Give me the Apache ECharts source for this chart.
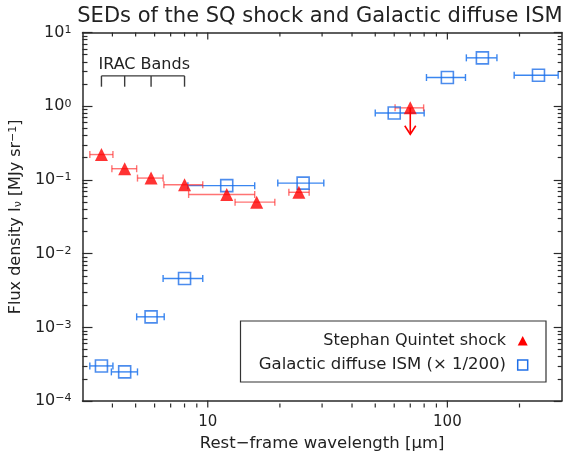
<!DOCTYPE html>
<html><head><meta charset="utf-8">
<script src="https://cdn.jsdelivr.net/npm/echarts@6/dist/echarts.min.js"></script>
<style>html,body{margin:0;padding:0;background:#fff}#c{width:567px;height:457px}</style>
</head><body><div id="c"></div>
<script>
// ---- Stephan Quintet shock (red triangles) ----
const sqWave    = [3.6, 4.5, 5.8, 8.0, 12, 16, 24, 70];
const sqFlux    = [0.221, 0.142, 0.106, 0.086, 0.0635, 0.050, 0.068, 0.95];
const sqWaveLo  = [3.22, 3.98, 5.09, 6.56, 8.32, 13.0, 21.8, 60.5];
const sqWaveHi  = [4.02, 5.05, 6.51, 9.53, 15.7, 19.05, 26.5, 79.6];
const sqLimitWave = [70];
const sqLimitTo   = [0.417];
// ---- Galactic diffuse ISM x 1/200 (blue squares) ----
const ismWave   = [3.6, 4.5, 5.8, 8.0, 12, 25, 60, 100, 140, 240];
const ismFlux   = [3.0e-4, 2.49e-4, 1.39e-3, 4.61e-3, 0.0837, 0.0906, 0.81, 2.45, 4.53, 2.63];
const ismWaveLo = [3.22, 3.96, 5.05, 6.51, 8.26, 19.6, 50.0, 81.8, 120, 190];
const ismWaveHi = [4.02, 5.09, 6.58, 9.53, 15.7, 30.5, 80.0, 119, 161, 290];
// ---- IRAC bands bracket ----
const iracBands = [3.6, 4.5, 5.8, 8.0];
const iracBracketTop = 2.58, iracBracketBottom = 1.84;
// ---- axes ----
const X_MIN = 3, X_MAX = 300, Y_MIN = 1e-4, Y_MAX = 10;
const xMajor = [10, 100];
const xMinor = [4, 5, 6, 7, 8, 9, 20, 30, 40, 50, 60, 70, 80, 90, 200];
const yLabels = [1e-4, 1e-3, 1e-2, 1e-1, 1, 10];

const GRID = { left: 79.3, right: 5.3, top: 32.5, bottom: 49.5 };
const W = 567, H = 457;
const gL = GRID.left, gR = W - GRID.right, gT = GRID.top, gB = H - GRID.bottom;
const FONT = 'DejaVu Sans';
const AX = '#2a2a2a';
const RED = '#ff0000', RED_ERR = 'rgba(255,40,40,0.65)';
const BLUE = '#1f6fe8', BLUE_ERR = '#3a86f0';

function supExp(v) {
  const e = Math.round(Math.log10(v));
  return '10{s|' + String(e).replace('-', '\u2212') + '}';
}

const xAxes = [
  { type: 'log', logBase: 10, min: X_MIN, max: X_MAX, position: 'bottom', offset: 0,
    axisLine: { show: true, lineStyle: { color: AX, width: 1.5 } },
    axisTick: { show: false },
    axisLabel: { show: true, customValues: xMajor, margin: 14, color: '#222', fontFamily: FONT, fontSize: 15, formatter: v => String(Math.round(v)) },
    splitLine: { show: false },
    name: 'Rest\u2212frame wavelength [\u03bcm]', nameLocation: 'middle', nameGap: 32,
    nameTextStyle: { fontFamily: FONT, fontSize: 16.5, color: '#222' } },
  { type: 'log', logBase: 10, min: X_MIN, max: X_MAX, position: 'top', offset: 0,
    axisLine: { show: true, lineStyle: { color: AX, width: 1.5 } },
    axisTick: { show: false }, axisLabel: { show: false }, splitLine: { show: false } }
];
const yAxes = [
  { type: 'log', logBase: 10, min: Y_MIN, max: Y_MAX, position: 'left', offset: 0,
    axisLine: { show: true, lineStyle: { color: AX, width: 1.5 } },
    axisTick: { show: true, inside: true, length: 10, lineStyle: { color: AX, width: 1.2 } },
    minorTick: { show: true, splitNumber: 9, length: 5, lineStyle: { color: AX, width: 1.2 } },
    axisLabel: { show: true, customValues: yLabels, margin: 11, color: '#222', fontFamily: FONT, fontSize: 16,
      formatter: supExp, rich: { s: { fontSize: 11, fontFamily: FONT, color: '#222', verticalAlign: 'top' } } },
    splitLine: { show: false },
    name: 'Flux density I{sub|\u03bd} [MJy sr{sup|\u22121}]', nameLocation: 'middle', nameRotate: 90, nameGap: 48,
    nameTextStyle: { fontFamily: FONT, fontSize: 16, color: '#222',
      rich: { sub: { fontSize: 11, fontFamily: FONT, color: '#222', verticalAlign: 'bottom' },
              sup: { fontSize: 11, fontFamily: FONT, color: '#222', verticalAlign: 'top' } } } },
  { type: 'log', logBase: 10, min: Y_MIN, max: Y_MAX, position: 'right', offset: 0,
    axisLine: { show: true, lineStyle: { color: AX, width: 1.5 } },
    axisTick: { show: true, inside: true, length: 8, lineStyle: { color: AX, width: 1.2 } },
    minorTick: { show: true, splitNumber: 9, length: 4, lineStyle: { color: AX, width: 1.2 } },
    axisLabel: { show: false }, splitLine: { show: false } }
];

function errRender(color) {
  return function (params, api) {
    const y = api.value(2);
    const a = api.coord([api.value(0), y]);
    const b = api.coord([api.value(1), y]);
    const c = 3.5, st = { stroke: color, lineWidth: 1.4 };
    return { type: 'group', children: [
      { type: 'line', shape: { x1: a[0], y1: a[1], x2: b[0], y2: b[1] }, style: st },
      { type: 'line', shape: { x1: a[0], y1: a[1] - c, x2: a[0], y2: a[1] + c }, style: st },
      { type: 'line', shape: { x1: b[0], y1: b[1] - c, x2: b[0], y2: b[1] + c }, style: st }
    ]};
  };
}

const series = [
  { type: 'custom', name: 'ismErr', silent: true, z: 2,
    data: ismWave.map((w, i) => [ismWaveLo[i], ismWaveHi[i], ismFlux[i]]),
    encode: { x: [0, 1], y: 2 }, renderItem: errRender(BLUE_ERR) },
  { type: 'custom', name: 'sqErr', silent: true, z: 3,
    data: sqWave.map((w, i) => [sqWaveLo[i], sqWaveHi[i], sqFlux[i]]),
    encode: { x: [0, 1], y: 2 }, renderItem: errRender(RED_ERR) },
  { type: 'scatter', name: 'Galactic diffuse ISM', z: 4,
    symbol: 'rect', symbolSize: 12,
    itemStyle: { color: 'rgba(0,0,0,0)', borderColor: BLUE, borderWidth: 1.6 },
    data: ismWave.map((w, i) => [w, ismFlux[i]]) },
  { type: 'scatter', name: 'Stephan Quintet shock', z: 5,
    symbol: 'triangle', symbolSize: 13, itemStyle: { color: RED },
    data: sqWave.map((w, i) => [w, sqFlux[i]]) },
  { type: 'custom', name: 'upperLimit', silent: true, z: 6,
    data: sqLimitWave.map((w, i) => [w, sqFlux[sqWave.indexOf(w)], sqLimitTo[i]]),
    encode: { x: 0, y: [1, 2] },
    renderItem: function (params, api) {
      const p0 = api.coord([api.value(0), api.value(1)]);
      const p1 = api.coord([api.value(0), api.value(2)]);
      const st = { stroke: RED, lineWidth: 1.6 };
      return { type: 'group', children: [
        { type: 'line', shape: { x1: p0[0], y1: p0[1], x2: p1[0], y2: p1[1] }, style: st },
        { type: 'polyline', shape: { points: [[p1[0] - 5.5, p1[1] - 8.5], [p1[0], p1[1]], [p1[0] + 5.5, p1[1] - 8.5]] }, style: Object.assign({ fill: 'none' }, st) }
      ]};
    } },
  { type: 'custom', name: 'irac', silent: true, z: 6,
    data: [[iracBands[0], iracBands[iracBands.length - 1], iracBracketTop, iracBracketBottom]],
    encode: { x: [0, 1], y: [2, 3] },
    renderItem: function (params, api) {
      const top = api.value(2), bot = api.value(3);
      const st = { stroke: '#3a3a3a', lineWidth: 1.4 };
      const a = api.coord([iracBands[0], top]);
      const b = api.coord([iracBands[iracBands.length - 1], top]);
      const kids = [{ type: 'line', shape: { x1: a[0], y1: a[1], x2: b[0], y2: b[1] }, style: st }];
      iracBands.forEach(w => {
        const p = api.coord([w, top]), q = api.coord([w, bot]);
        kids.push({ type: 'line', shape: { x1: p[0], y1: p[1], x2: q[0], y2: q[1] }, style: st });
      });
      kids.push({ type: 'text', x: a[0] - 3, y: a[1] - 3,
        style: { text: 'IRAC Bands', fill: '#222', font: '16px "' + FONT + '"', textAlign: 'left', textVerticalAlign: 'bottom' } });
      return { type: 'group', children: kids };
    } }
];

const baseGraphic = [
  { type: 'text', x: 320, y: 16.5, z: 10,
    style: { text: 'SEDs of the SQ shock and Galactic diffuse ISM', fill: '#222', font: '21px "' + FONT + '"', textAlign: 'center', textVerticalAlign: 'middle' } },
  { type: 'group', z: 100, children: [
    { type: 'rect', shape: { x: 240.5, y: 321, width: 305.5, height: 61 }, style: { fill: '#fff', stroke: '#333', lineWidth: 1.2 } },
    { type: 'text', x: 506, y: 341, style: { text: 'Stephan Quintet shock', fill: '#222', font: '16px "' + FONT + '"', textAlign: 'right', textVerticalAlign: 'middle' } },
    { type: 'text', x: 506, y: 365, style: { text: 'Galactic diffuse ISM (\u00d7 1/200)', fill: '#222', font: '16.5px "' + FONT + '"', textAlign: 'right', textVerticalAlign: 'middle' } },
    { type: 'polygon', shape: { points: [[517.7, 345.5], [527.7, 345.5], [522.7, 336]] }, style: { fill: RED } },
    { type: 'rect', shape: { x: 517.7, y: 360, width: 10, height: 10 }, style: { fill: 'none', stroke: BLUE, lineWidth: 1.5 } }
  ]}
];

const chart = echarts.init(document.getElementById('c'), null, { renderer: 'canvas' });
chart.setOption({
  animation: false,
  backgroundColor: '#fff',
  grid: { left: GRID.left, right: GRID.right, top: GRID.top, bottom: GRID.bottom, containLabel: false },
  xAxis: xAxes,
  yAxis: yAxes,
  series: series
});

// inward x-axis ticks (bottom and top), placed through the x-axis scale
const tickEls = [];
function vTick(x, y0, len) {
  tickEls.push({ type: 'rect', silent: true, z: 50,
    shape: { x: x - 0.6, y: Math.min(y0, y0 + len), width: 1.2, height: Math.abs(len) }, style: { fill: AX } });
}
function xPix(v) {
  let p = chart.convertToPixel({ xAxisIndex: 0, yAxisIndex: 0 }, [v, 1]);
  p = Array.isArray(p) ? p[0] : NaN;
  if (!(isFinite(p) && p > gL - 1 && p < gR + 1)) {
    p = gL + (Math.log10(v) - Math.log10(X_MIN)) / (Math.log10(X_MAX) - Math.log10(X_MIN)) * (gR - gL);
  }
  return p;
}
xMajor.map(v => [v, 1]).concat(xMinor.map(v => [v, 0])).forEach(function (t) {
  const x = xPix(t[0]), len = t[1] ? 7 : 4;
  vTick(x, gB, -len);
  vTick(x, gT, len);
});

chart.setOption({ graphic: baseGraphic.concat(tickEls) });
</script></body></html>
